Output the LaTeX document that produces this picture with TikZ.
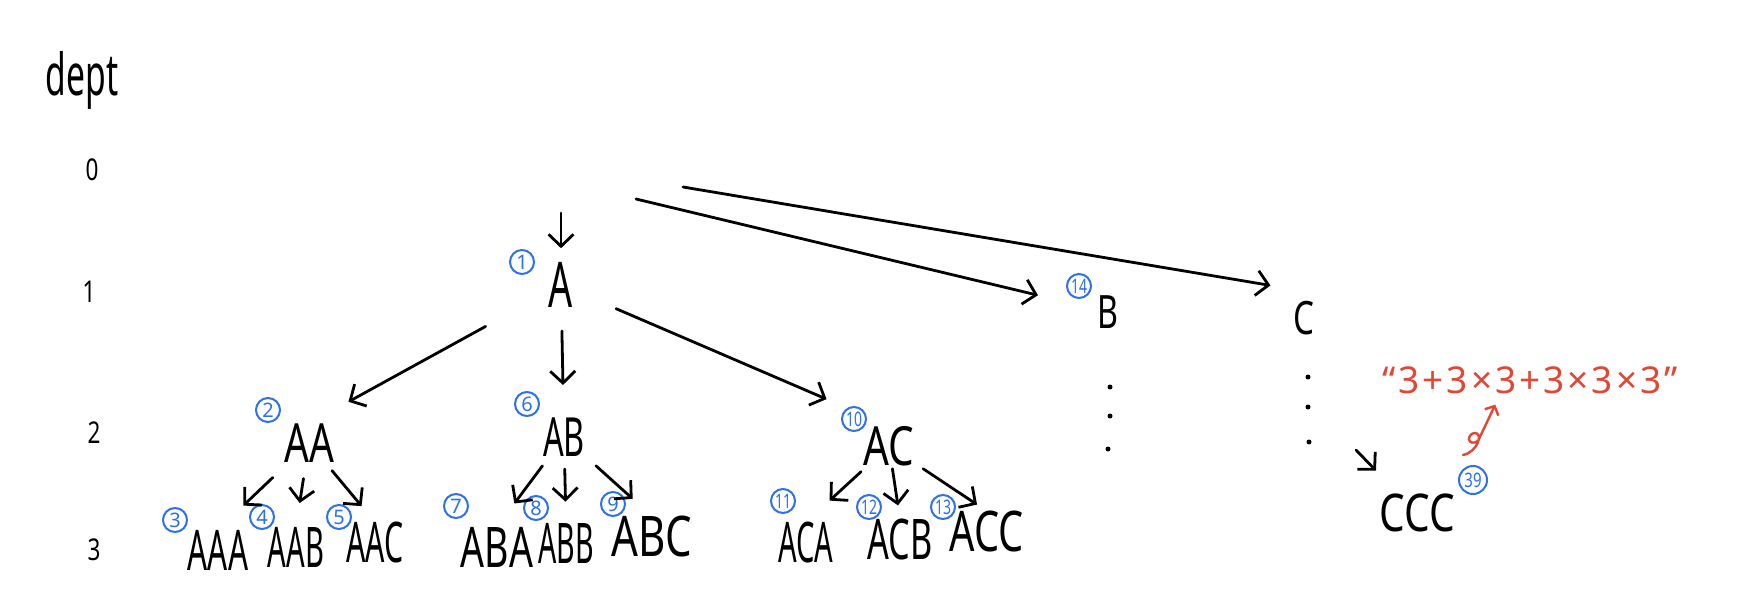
\documentclass[tikz,border=0pt]{standalone}
\usepackage{fontspec}
\setmainfont{Noto Sans}
\usetikzlibrary{arrows.meta,calc}
\definecolor{cblue}{RGB}{45,112,240}
\definecolor{cred}{RGB}{226,70,52}
\newcommand{\hwx}[2]{\scalebox{#1}[1]{#2}}
\newcommand{\gp}{\hspace{3pt}}
\begin{document}
\begin{tikzpicture}[x=1pt,y=-1pt,
  arr/.style={line width=2.8pt,line cap=round,-{Straight Barb[length=12pt,width=25pt,line width=2.8pt]}},
  redarr/.style={cred,line width=2.4pt,line cap=round,-{Straight Barb[length=7pt,width=15pt,line width=2.4pt]}},
  depth/.style={inner sep=0pt,font=\fontsize{30}{30}\selectfont},
  lone/.style={inner sep=0pt,font=\fontsize{63}{63}\selectfont},
  lonebc/.style={inner sep=0pt,font=\fontsize{46}{46}\selectfont},
  ltwo/.style={inner sep=0pt,font=\fontsize{54}{54}\selectfont},
  lthree/.style={inner sep=0pt,font=\fontsize{56}{56}\selectfont},
  cnum/.style={circle,draw=cblue,line width=2pt,text=cblue,inner sep=0pt,minimum size=24pt,font=\fontsize{20}{20}\selectfont},
  dotc/.style={circle,fill=black,inner sep=0pt,minimum size=5pt}]
\useasboundingbox (0,0) rectangle (1750,612);
\fill[white] (0,0) rectangle (1750,612);
% depth labels
\node[inner sep=0pt,font=\fontsize{58}{58}\selectfont] (dept) at (82,80) {\hwx{0.58}{dept}};
\node[depth] (d0) at (92,170) {\hwx{0.75}{0}};
\node[depth] (d1) at (89,292) {\hwx{0.75}{1}};
\node[depth] (d2) at (94,433) {\hwx{0.75}{2}};
\node[depth] (d3) at (94,550) {\hwx{0.75}{3}};
% level 1
\node[lone] (nA) at (561,285) {\hwx{0.6}{A}};
\node[lonebc] (nB) at (1108,312) {\hwx{0.7}{B}};
\node[lonebc,inner sep=14pt] (nC) at (1304,318) {\hwx{0.72}{C}};
% level 2
\node[ltwo] (nAA) at (309,443) {\hwx{0.72}{AA}};
\node[ltwo] (nAB) at (564,437) {\hwx{0.6}{AB}};
\node[ltwo] (nAC) at (889,446) {\hwx{0.75}{AC}};
% level 3
\node[lthree] (nAAA) at (218,550) {\hwx{0.56}{AAA}};
\node[lthree] (nAAB) at (296,547) {\hwx{0.52}{AAB}};
\node[lthree] (nAAC) at (375,543) {\hwx{0.54}{AAC}};
\node[lthree] (nABA) at (497,547) {\hwx{0.67}{ABA}};
\node[lthree] (nABB) at (566,543) {\hwx{0.51}{ABB}};
\node[lthree] (nABC) at (652,537) {\hwx{0.75}{ABC}};
\node[lthree] (nACA) at (806,543) {\hwx{0.52}{ACA}};
\node[lthree] (nACB) at (900,540) {\hwx{0.61}{ACB}};
\node[lthree] (nACC) at (987,532) {\hwx{0.71}{ACC}};
\node[inner sep=0pt,font=\fontsize{52}{52}\selectfont] (nCCC) at (1417,513) {\hwx{0.78}{CCC}};
% circled numbers
\node[cnum] (c1) at (522,262) {1};
\node[cnum] (c14) at (1079,286) {\hwx{0.7}{14}};
\node[cnum] (c2) at (268,410) {2};
\node[cnum] (c6) at (527,404) {6};
\node[cnum] (c10) at (854,419) {\hwx{0.7}{10}};
\node[cnum] (c3) at (175,520) {3};
\node[cnum] (c4) at (262,517) {4};
\node[cnum] (c5) at (339,517) {5};
\node[cnum] (c7) at (456,506) {7};
\node[cnum] (c8) at (536,508) {8};
\node[cnum] (c9) at (613,504) {9};
\node[cnum] (c11) at (783,501) {\hwx{0.7}{11}};
\node[cnum] (c12) at (869,507) {\hwx{0.7}{12}};
\node[cnum] (c13) at (943,507) {\hwx{0.7}{13}};
\node[cnum,minimum size=28pt] (c39) at (1473,480) {\hwx{0.75}{39}};
% dots
\node[dotc] (bd1) at (1110,387) {};
\node[dotc] (bd2) at (1110,416) {};
\node[dotc] (bd3) at (1108,449) {};
\node[dotc] (cd1) at (1308,377) {};
\node[dotc] (cd2) at (1308,407) {};
\node[dotc] (cd3) at (1309,442) {};
% red formula
\node[inner sep=0pt,text=cred,font=\fontsize{37}{37}\selectfont] (red) at (1530,380)
  {“\gp3\gp+\gp3\gp×\gp3\gp+\gp3\gp×\gp3\gp×\gp3\gp”};
% free ends
\coordinate (topA) at (561,213);
\coordinate (s1) at (636,199);
\coordinate (s2) at (683,187);
\coordinate (s3) at (1356,450);
\coordinate (rs) at (1463,455);
% connectors
\draw[arr,shorten >=14pt] (topA) -- (nA.north);
\draw[arr,shorten >=72pt] (s1) -- (nB.center);
\draw[arr,shorten >=9pt] (s2) -- (nC.north west);
\draw[arr,shorten <=86pt,shorten >=45pt] (nA.center) -- (nAA.north);
\draw[arr,shorten <=46pt,shorten >=52pt] (nA.center) -- (nAB.center);
\draw[arr,shorten <=60pt,shorten >=68pt] (nA.center) -- (nAC.north);
\draw[arr,shorten <=50pt,shorten >=35pt] (nAA.center) -- (nAAA.north);
\draw[arr,shorten <=36pt,shorten >=24pt] (nAA.center) -- (nAAB.north);
\draw[arr,shorten <=36pt,shorten >=21pt] (nAA.center) -- (nAAC.north);
\draw[arr,shorten <=36pt,shorten >=29pt] (nAB.center) -- (nABA.north);
\draw[arr,shorten <=32pt,shorten >=21pt] (nAB.center) -- (nABB.north);
\draw[arr,shorten <=43pt,shorten >=26pt] (nAB.center) -- (nABC.north);
\draw[arr,shorten <=38pt,shorten >=32pt] (nAC.center) -- (nACA.north);
\draw[arr,shorten <=23pt,shorten >=14pt] (nAC.center) -- (nACB.north);
\draw[arr,shorten <=41pt,shorten >=12pt] (nAC.center) -- (nACC.north);
\draw[arr,shorten >=59pt] (s3) -- (nCCC.center);
\draw[redarr,shorten >=12pt] (rs) .. controls (1478,452) and (1484,432) .. (1474,433)
  .. controls (1466,435) and (1468,447) .. (1478,441)
  -- ($(red.south)!0.2!(red.south west)$);
\end{tikzpicture}
\end{document}
